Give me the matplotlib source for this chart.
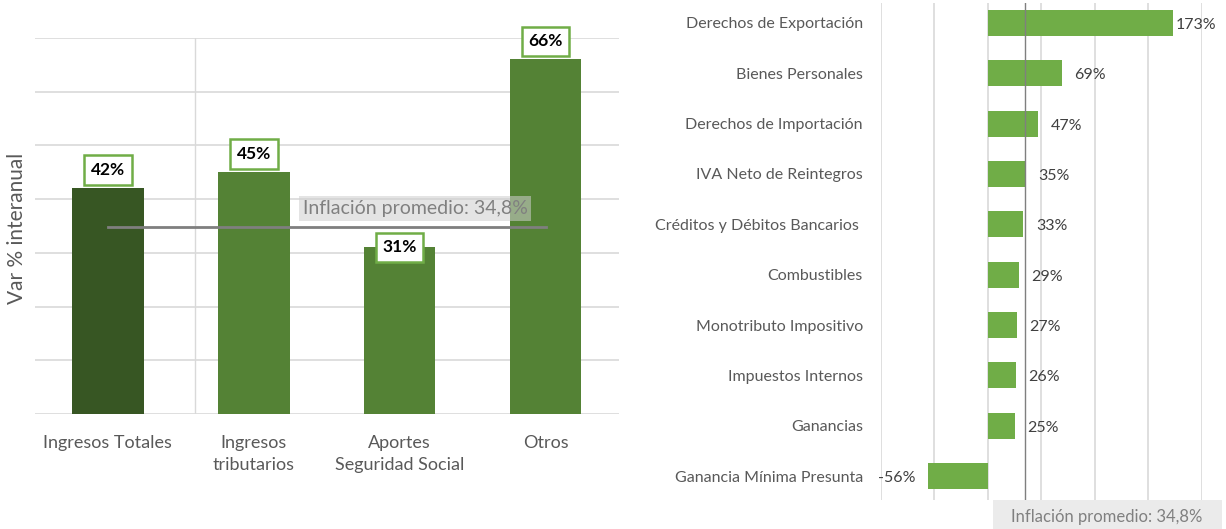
import matplotlib
matplotlib.use('Agg')
import matplotlib.pyplot as plt
from matplotlib.patches import Rectangle

plt.rcParams['font.family'] = ['Lato', 'DejaVu Sans']

# datos panel izquierdo
cats_left = ['Ingresos Totales', 'Ingresos\ntributarios', 'Aportes\nSeguridad Social', 'Otros']
vals_left = [42, 45, 31, 66]
colors_left = ['#375623', '#548235', '#548235', '#548235']

# datos panel derecho
cats_right = ['Derechos de Exportación', 'Bienes Personales', 'Derechos de Importación',
              'IVA Neto de Reintegros', 'Créditos y Débitos Bancarios ', 'Combustibles',
              'Monotributo Impositivo', 'Impuestos Internos', 'Ganancias',
              'Ganancia Mínima Presunta']
vals_right = [173, 69, 47, 35, 33, 29, 27, 26, 25, -56]

inflacion = 34.8
infl_text = 'Inflación promedio: 34,8%'

grid_c = '#d9d9d9'
txt_c = '#595959'

fig = plt.figure(figsize=(12.26, 5.29), dpi=100)

# ---- izquierda ----
ax1 = fig.add_axes([0.0285, 0.2174, 0.476, 0.711])
x = range(len(vals_left))
ax1.bar(x, vals_left, width=0.49, color=colors_left, zorder=3)
ax1.set_xlim(-0.5, 3.5)
ax1.set_ylim(0, 70)
ax1.set_yticks(range(0, 71, 10))
ax1.yaxis.grid(True, color=grid_c, lw=1.2, zorder=0)
ax1.axvline(0.6, color=grid_c, lw=1, zorder=0)
ax1.tick_params(axis='y', length=0, labelleft=False)
ax1.set_xticks(list(x))
ax1.set_xticklabels(cats_left, fontsize=13, color=txt_c, linespacing=1.45)
ax1.tick_params(axis='x', length=0, pad=15)
for s in ax1.spines.values():
    s.set_visible(False)

ax1.plot([0, 3], [inflacion, inflacion], color='#7f7f7f', lw=2, zorder=4)
ax1.text(1.335, 38.3, infl_text, fontsize=14, color='#808080', va='center', ha='left', zorder=5,
         bbox=dict(boxstyle='square,pad=0.2', fc='#cfcfcf', ec='none', alpha=0.55))

for i, v in enumerate(vals_left):
    dy = 0 if v < inflacion else 3.4
    ax1.text(i, v + dy, f'{v}%', fontsize=12.5, fontweight='bold', color='black',
             ha='center', va='center', zorder=6, clip_on=False,
             bbox=dict(boxstyle='square,pad=0.38', fc='white', ec='#70ad47', lw=1.8))

fig.text(17 / 1226, 0.569, 'Var % interanual', rotation=90, fontsize=15,
         color=txt_c, ha='center', va='center')

# ---- derecha ----
ax2 = fig.add_axes([0.7186, 0.0548, 0.2618, 0.9395])
y = range(len(vals_right))
ax2.barh(y, vals_right, height=0.52, color='#70ad47', zorder=3)
ax2.set_xlim(-100, 200)
ax2.set_ylim(9.477, -0.397)
ax2.set_xticks(range(-100, 201, 50))
ax2.xaxis.grid(True, color=grid_c, lw=1.2, zorder=0)
ax2.tick_params(axis='x', length=0, labelbottom=False)
ax2.set_yticks(list(y))
ax2.set_yticklabels(cats_right, fontsize=11.5, color=txt_c)
ax2.tick_params(axis='y', length=0, pad=13)
for s in ax2.spines.values():
    s.set_visible(False)
ax2.axvline(inflacion, color='#7f7f7f', lw=1, zorder=4)

for i, v in enumerate(vals_right):
    if v >= 0:
        off = 2 if v > 150 else 9
        ax2.annotate(f'{v}%', (v, i), xytext=(off, -1.5), textcoords='offset points',
                     ha='left', va='center', fontsize=11.5, color='#404040', clip_on=False)
    else:
        ax2.annotate(f'{v}%', (v, i), xytext=(-9, -1.5), textcoords='offset points',
                     ha='right', va='center', fontsize=11.5, color='#404040', clip_on=False)

fig.patches.append(Rectangle((993 / 1226, 0), 229 / 1226, 29 / 529, transform=fig.transFigure,
                             fc='#ebebeb', ec='none', zorder=0))
fig.text(1107 / 1226, 12 / 529, infl_text, fontsize=12, color='#808080', ha='center', va='center')

fig.savefig('out.png', dpi=100)
